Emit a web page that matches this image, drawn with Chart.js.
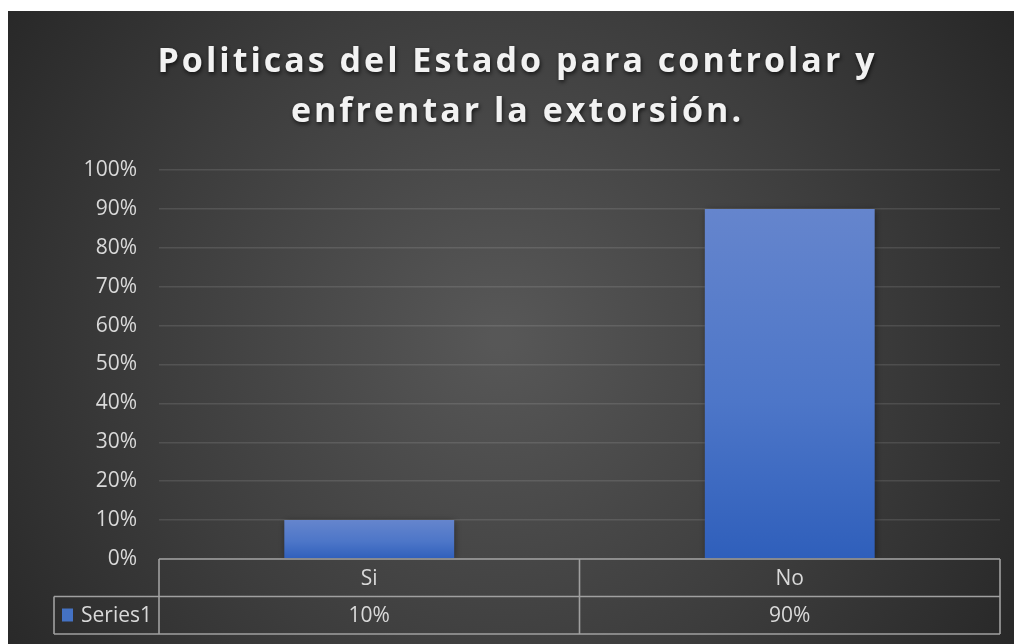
<!DOCTYPE html>
<html>
<head>
<meta charset="utf-8">
<script src="https://cdn.jsdelivr.net/npm/chart.js@4/dist/chart.umd.min.js"></script>
<style>
  html, body { margin: 0; padding: 0; background: #fff; }
  #wrap { position: absolute; left: 8px; top: 11px; width: 1006px; height: 633px; }
</style>
</head>
<body>
<div id="wrap"><canvas id="chart"></canvas></div>
<script>
const titleLines = ['Politicas del Estado para controlar y', 'enfrentar la extorsión.'];
const categories = ['Si', 'No'];
const seriesName = 'Series1';
const values = [10, 90];
const tableLabels = ['10%', '90%'];

const FONT = '"Open Sans", "DejaVu Sans", sans-serif';

// background, title and the data table under the plot
const decor = {
  id: 'decor',
  beforeDraw(chart) {
    const { ctx, width, height } = chart;
    ctx.save();
    const g = ctx.createRadialGradient(width / 2 - 10, height / 2 + 10, 10, width / 2 - 10, height / 2 + 10, 620);
    g.addColorStop(0, '#575757');
    g.addColorStop(0.55, '#3d3d3d');
    g.addColorStop(1, '#262626');
    ctx.fillStyle = g;
    ctx.fillRect(0, 0, width, height);

    // title
    ctx.font = 'bold 34px ' + FONT;
    ctx.textAlign = 'left';
    ctx.textBaseline = 'alphabetic';
    ctx.letterSpacing = '0px';
    const w0 = ctx.measureText(titleLines[0]).width;
    const sp = Math.max(0, (717 - w0) / (titleLines[0].length - 1));
    ctx.letterSpacing = sp + 'px';
    ctx.fillStyle = '#f2f2f2';
    ctx.shadowColor = 'rgba(0,0,0,0.7)';
    ctx.shadowBlur = 4;
    ctx.shadowOffsetX = 1;
    ctx.shadowOffsetY = 2;
    const cx = 508;
    [61, 111].forEach((y, i) => {
      const w = ctx.measureText(titleLines[i]).width - sp;
      ctx.fillText(titleLines[i], cx - w / 2, y);
    });
    ctx.restore();
  },
  beforeDatasetsDraw(chart) {
    const c = chart.ctx;
    c.save();
    c.shadowColor = 'rgba(0,0,0,0.45)';
    c.shadowBlur = 7;
    c.shadowOffsetX = 1;
    c.shadowOffsetY = 1;
  },
  afterDatasetsDraw(chart) {
    const { ctx, chartArea, scales } = chart;
    ctx.restore();
    const x = scales.x;
    const top = chartArea.bottom;
    const rowH = 37.5;
    const left = chartArea.left, right = chartArea.right;
    const legLeft = 46;
    ctx.save();
    ctx.strokeStyle = '#a0a0a0';
    ctx.lineWidth = 1.6;
    ctx.beginPath();
    ctx.moveTo(left, top); ctx.lineTo(right, top);
    ctx.moveTo(legLeft, top + rowH); ctx.lineTo(right, top + rowH);
    ctx.moveTo(legLeft, top + 2 * rowH); ctx.lineTo(right, top + 2 * rowH);
    ctx.moveTo(left, top); ctx.lineTo(left, top + 2 * rowH);
    ctx.moveTo(right, top); ctx.lineTo(right, top + 2 * rowH);
    ctx.moveTo(legLeft, top + rowH); ctx.lineTo(legLeft, top + 2 * rowH);
    for (let i = 1; i < categories.length; i++) {
      const xd = (x.getPixelForValue(i - 1) + x.getPixelForValue(i)) / 2;
      ctx.moveTo(xd, top); ctx.lineTo(xd, top + 2 * rowH);
    }
    ctx.stroke();

    ctx.fillStyle = '#d9d9d9';
    ctx.font = '21px ' + FONT;
    ctx.textAlign = 'center';
    ctx.textBaseline = 'middle';
    categories.forEach((c, i) => {
      const xc = x.getPixelForValue(i);
      ctx.fillText(c, xc, top + rowH / 2 + 1);
      ctx.fillText(tableLabels[i], xc, top + rowH * 1.5 + 1);
    });
    // legend key
    ctx.fillStyle = '#4472c4';
    ctx.fillRect(54, top + rowH + 12, 11, 13);
    ctx.fillStyle = '#d9d9d9';
    ctx.textAlign = 'left';
    ctx.fillText(seriesName, 73, top + rowH * 1.5 + 1);
    ctx.restore();
  }
};

function barFill(context) {
  const chart = context.chart;
  if (!chart.chartArea || context.raw === undefined) return '#4472c4';
  const y = chart.scales.y;
  const yTop = y.getPixelForValue(context.raw);
  const yBase = y.getPixelForValue(0);
  const g = chart.ctx.createLinearGradient(0, yTop, 0, yBase);
  g.addColorStop(0, '#6585cd');
  g.addColorStop(0.55, '#4d76c8');
  g.addColorStop(1, '#2f5fbb');
  return g;
}

new Chart(document.getElementById('chart'), {
  type: 'bar',
  data: {
    labels: categories,
    datasets: [{
      label: seriesName,
      data: values,
      backgroundColor: barFill,
      borderWidth: 0,
      categoryPercentage: 1,
      barPercentage: 0.404
    }]
  },
  plugins: [decor],
  options: {
    responsive: true,
    maintainAspectRatio: false,
    animation: false,
    layout: { padding: { left: 0, top: 159, right: 14, bottom: 85 } },
    plugins: { legend: { display: false }, title: { display: false }, tooltip: { enabled: false } },
    scales: {
      x: { display: false },
      y: {
        min: 0,
        max: 100,
        afterFit: s => { s.width = 151; },
        border: { display: false },
        grid: { color: 'rgba(255,255,255,0.11)', lineWidth: 1.5, drawTicks: false },
        ticks: {
          stepSize: 10,
          padding: 22,
          color: '#d9d9d9',
          font: { family: FONT, size: 21 },
          callback: v => v + '%'
        }
      }
    }
  }
});
</script>
</body>
</html>
